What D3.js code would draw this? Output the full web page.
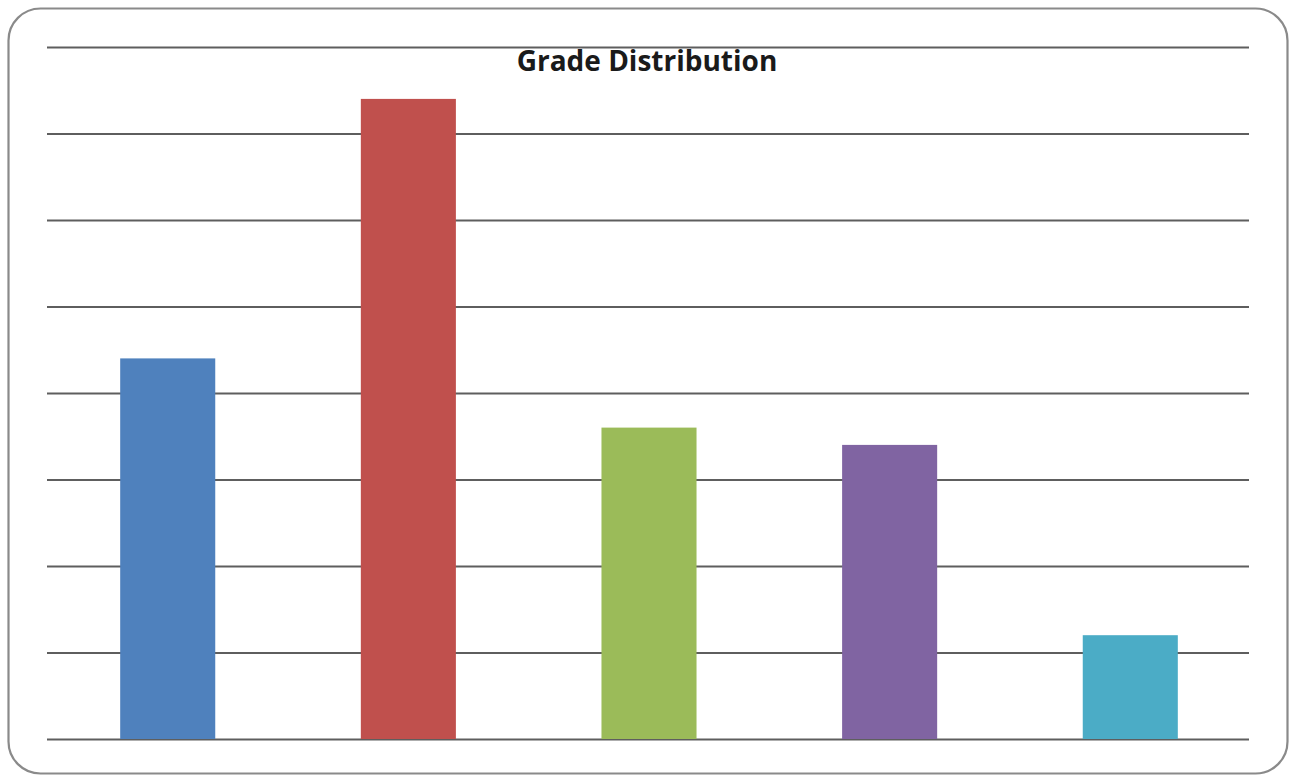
<!DOCTYPE html>
<html>
<head>
<meta charset="utf-8">
<script src="https://cdn.jsdelivr.net/npm/d3@7"></script>
<style>
  html, body { margin: 0; padding: 0; background: #fff; }
  svg { display: block; }
</style>
</head>
<body>
<svg id="chart" width="1296" height="777"></svg>
<script>
// Grade counts per letter grade
const grades = ["A", "B", "C", "D", "F"];
const counts = [22, 37, 18, 17, 6];
const barColors = ["#4F81BD", "#C0504D", "#9BBB59", "#8064A2", "#4BACC6"];
const yTicks = [0, 5, 10, 15, 20, 25, 30, 35, 40];
const title = "Grade Distribution";

const svg = d3.select("#chart");
const W = 1296, H = 777;
const margin = { top: 47, right: 47, bottom: 38, left: 47 };

// Rounded outer frame
svg.append("rect")
  .attr("x", 8.5).attr("y", 8.5)
  .attr("width", 1279).attr("height", 765)
  .attr("rx", 32).attr("ry", 32)
  .attr("fill", "#fff")
  .attr("stroke", "#8a8a8a")
  .attr("stroke-width", 2.2);

const x = d3.scaleBand()
  .domain(grades)
  .range([margin.left, W - margin.right])
  .paddingInner(0.605)
  .paddingOuter(0.3);

const y = d3.scaleLinear()
  .domain([0, 40])
  .range([H - margin.bottom, margin.top]);

// Horizontal gridlines
const yAxis = d3.axisLeft(y)
  .tickValues(yTicks)
  .tickSize(-(W - margin.left - margin.right))
  .tickFormat("");
const gGrid = svg.append("g")
  .attr("transform", `translate(${margin.left},0)`)
  .call(yAxis);
gGrid.select(".domain").remove();
gGrid.selectAll(".tick line")
  .attr("stroke", "#5e5e5e")
  .attr("stroke-width", 2.2);

// Bars
svg.append("g")
  .selectAll("rect")
  .data(grades)
  .join("rect")
  .attr("x", d => x(d) + 1)
  .attr("y", (d, i) => y(counts[i]))
  .attr("width", x.bandwidth())
  .attr("height", (d, i) => y(0) - y(counts[i]))
  .attr("fill", (d, i) => barColors[i]);

// Title
svg.append("text")
  .attr("x", 647)
  .attr("y", 71)
  .attr("text-anchor", "middle")
  .attr("font-family", "'Open Sans', 'DejaVu Sans', sans-serif")
  .attr("font-weight", "bold")
  .attr("font-size", 28)
  .attr("fill", "#1a1a1a")
  .text(title);
</script>
</body>
</html>
